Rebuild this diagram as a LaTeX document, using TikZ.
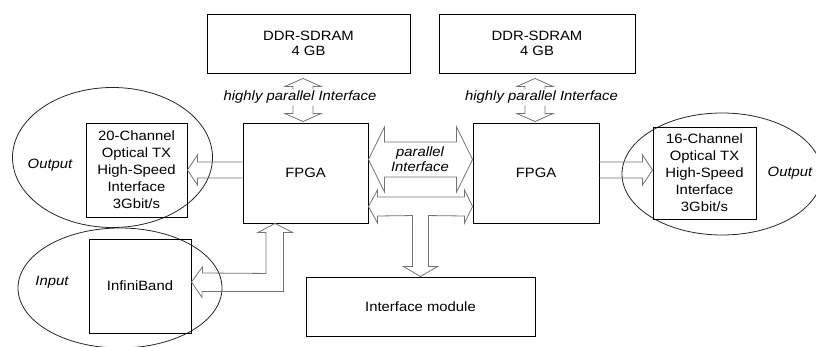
\documentclass[tikz,border=0pt]{standalone}
\usepackage{fontspec}
\setmainfont{Liberation Sans}[FakeStretch=1.1]
\usetikzlibrary{shapes.geometric,calc}
\definecolor{arrowgray}{RGB}{115,115,115}
\begin{document}
\begin{tikzpicture}[x=1pt,y=-1pt,
  font=\fontsize{13.5}{16}\selectfont,
  box/.style={draw=black, line width=0.9pt, inner sep=0pt, align=center},
  oval/.style={draw=black!85, line width=0.8pt, ellipse, inner sep=0pt},
  hollow/.style={draw=arrowgray, line width=0.8pt, line join=miter},
  lbl/.style={font=\fontsize{13.5}{15}\selectfont\itshape, inner sep=0pt, align=center}]
\useasboundingbox (0,0) rectangle (816,347);

% grouping ovals
\node[oval, minimum width=200pt, minimum height=140pt] (ovOutL) at (112.5,157.5) {};
\node[oval, minimum width=200pt, minimum height=122pt] (ovOutR) at (722,174) {};
\node[oval, minimum width=204pt, minimum height=120pt] (ovIn) at (120,288) {};

% blocks
\node[box, minimum width=203pt, minimum height=59pt, font=\fontsize{13.5}{15}\selectfont] (ddr1) at (308.5,43.5) {DDR-SDRAM\\4 GB};
\node[box, minimum width=196pt, minimum height=59pt, font=\fontsize{13.5}{15}\selectfont] (ddr2) at (537,43.5) {DDR-SDRAM\\4 GB};
\node[box, minimum width=125pt, minimum height=100pt] (fpga1) at (305.5,173) {FPGA};
\node[box, minimum width=126pt, minimum height=100pt] (fpga2) at (536,173) {FPGA};
\node[box, minimum width=101pt, minimum height=94pt, font=\fontsize{13.5}{17}\selectfont] (tx1) at (136.5,170) {20-Channel\\Optical TX\\High-Speed\\Interface\\3Gbit/s};
\node[box, minimum width=103pt, minimum height=92pt, font=\fontsize{13.5}{17}\selectfont] (tx2) at (704.5,173) {16-Channel\\Optical TX\\High-Speed\\Interface\\3Gbit/s};
\node[box, minimum width=102pt, minimum height=94pt] (ib) at (140,286) {InfiniBand};
\node[box, minimum width=229pt, minimum height=59pt] (im) at (420.5,306.5) {Interface module};

% oval labels
\node[lbl] (lOutL) at (50,165) {Output};
\node[lbl] (lOutR) at (790,173) {Output};
\node[lbl] (lIn) at (52,282) {Input};

% memory interfaces (arrow broken by its label)
\node[lbl] (hpi1) at (300,97) {highly parallel Interface};
\node[lbl] (hpi2) at (541.5,97) {highly parallel Interface};
\draw[hollow] ($(ddr1.south)+(-15.5,16)$) -- ++(0,-3) -- ++(-8,0) -- ++(18,-8) -- ++(18,8) -- ++(-8,0) -- ++(0,3);
\draw[hollow] ($(fpga1.north)+(-12.5,-17)$) -- ++(0,8) -- ++(-8,0) -- ++(18,8) -- ++(18,-8) -- ++(-8,0) -- ++(0,-8);
\draw[hollow] ($(ddr2.south)+(-12,16)$) -- ++(0,-3) -- ++(-8,0) -- ++(18,-8) -- ++(18,8) -- ++(-8,0) -- ++(0,3);
\draw[hollow] ($(fpga2.north)+(-11,-17)$) -- ++(0,8) -- ++(-8,0) -- ++(18,8) -- ++(18,-8) -- ++(-8,0) -- ++(0,-8);

% FPGA -> optical transmitters
\draw[hollow] ($(fpga1.west)+(0,-11)$) -- ($(tx1.east)+(10,-8)$) -- ++(0,-7) -- (tx1.east) -- ++(10,15) -- ++(0,-7) -- ($(fpga1.west)+(0,5)$);
\draw[hollow] ($(fpga2.east)+(0,-11)$) -- ($(tx2.west)+(-10,-11)$) -- ++(0,-7) -- ($(tx2.west)+(0,-3)$) -- ++(-10,15) -- ++(0,-7) -- ($(fpga2.east)+(0,5)$);

% InfiniBand <-> FPGA
\draw[hollow] ($(ib.east)+(0,-4)$) -- ++(11,-15) -- ++(0,6) -- ($(fpga1.south)+(-39.5,50)$) -- ++(0,-41) -- ++(-8,0)
  -- ($(fpga1.south)+(-30.5,0)$) -- ++(17.5,9) -- ++(-9,0) -- ++(0,59) -- ++(-81.5,0) -- ++(0,6) -- cycle;

% FPGA <-> FPGA parallel interface
\draw[hollow] ($(fpga1.east)+(0,-13.5)$) -- ++(16,-32.5) -- ++(0,15) -- ($(fpga2.west)+(-16,-31)$) -- ++(0,-15)
  -- ($(fpga2.west)+(0,-13.5)$) -- ++(-16,32.5) -- ++(0,-15) -- ($(fpga1.east)+(16,4)$) -- ++(0,15) -- cycle;
\node[lbl] (par) at (420,159.5) {parallel\\Interface};

% shared bus to the interface module
\draw[hollow] ($(fpga1.east)+(0,33.5)$) -- ++(9,-16.5) -- ++(0,7) -- ($(fpga2.west)+(-8,24)$) -- ++(0,-7)
  -- ($(fpga2.west)+(0,33.5)$) -- ++(-8,16.5) -- ++(0,-7) -- ($(im.north)+(8,-61)$) -- ++(0,51) -- ++(9,0)
  -- (im.north) -- ++(-17,-10) -- ++(9,0) -- ++(0,-51) -- ($(fpga1.east)+(9,43)$) -- ++(0,7) -- cycle;
\end{tikzpicture}
\end{document}
